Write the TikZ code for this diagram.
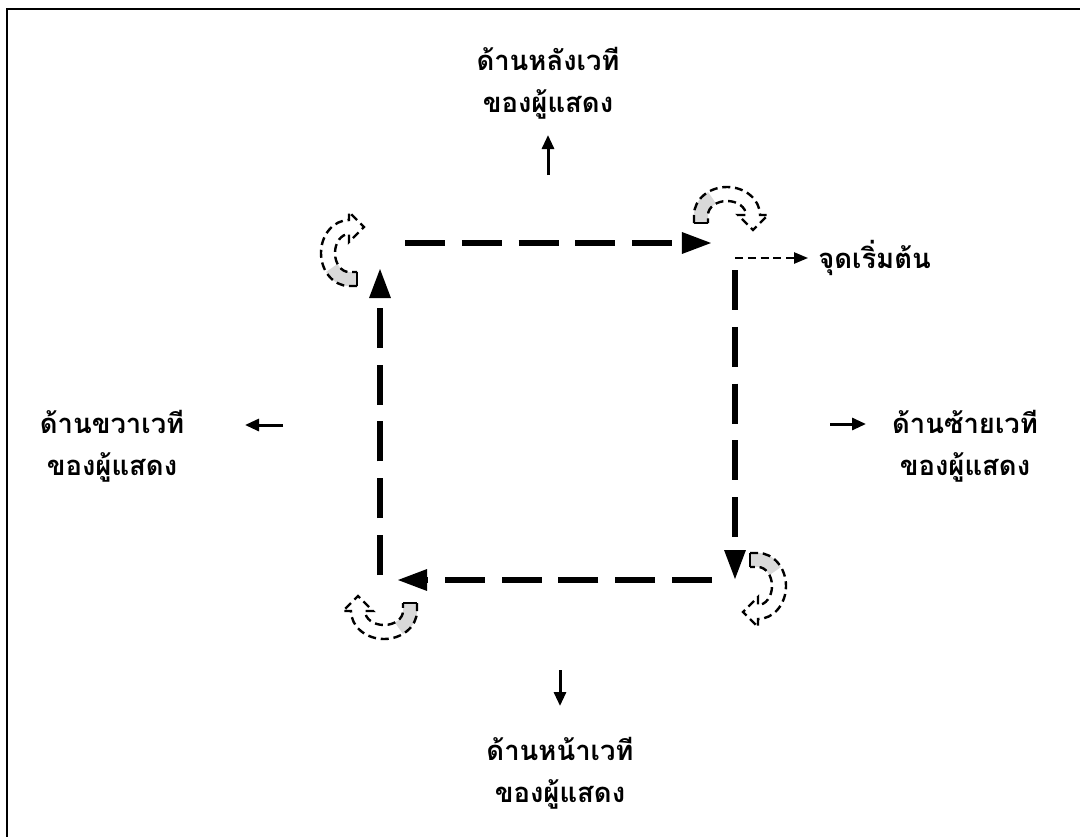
\documentclass[tikz,border=0pt]{standalone}
\usepackage{fontspec}
\newfontfamily\thaifont[Script=Thai]{Loma}
\usetikzlibrary{arrows.meta}

\begin{document}
\begin{tikzpicture}[
         x=0.025cm, y=-0.025cm,
         side/.style={font=\thaifont\bfseries\fontsize{19.5}{30}\selectfont, align=center, inner sep=0pt},
         walk/.style={line width=0.15cm, dash pattern=on 1cm off 0.42cm, -{Triangle[length=0.75cm,width=0.5cm]}},
         pointer/.style={line width=0.075cm, -{Triangle[length=0.35cm,width=0.3cm]}},
         begin/.style={line width=0.05cm, dash pattern=on 0.2cm off 0.12cm, -{Triangle[length=0.35cm,width=0.28cm]}},
         turn/.pic={
            \begin{scope}[x=0.025cm, y=0.025cm]
               \fill[gray!30] (-33,-8) -- (-19,-8) -- (-19,0)
                  arc[start angle=180, end angle=125, x radius=19, y radius=14]
                  -- ({33*cos(125)},{28*sin(125)})
                  arc[start angle=125, end angle=180, x radius=33, y radius=28] -- cycle;
               \draw[line width=0.06cm, dash pattern=on 0.2cm off 0.12cm]
                  (-33,-8) -- (-33,0)
                  arc[start angle=180, end angle=0, x radius=33, y radius=28]
                  -- (41,0) -- (26,-15) -- (11,0) -- (19,0)
                  arc[start angle=0, end angle=180, x radius=19, y radius=14]
                  -- (-19,-8);
               \draw[line width=0.07cm] (-33,-8) -- (-19,-8);
            \end{scope}
         }
      ]
         \useasboundingbox (0,0) rectangle (1080,837);
         % Frame
         \draw[line width=0.07cm] (1080,9) -- (7,9) -- (7,837);

         % Corners of the walk
         \coordinate (tl) at (380,243);
         \coordinate (tr) at (735,243);
         \coordinate (br) at (735,580);
         \coordinate (bl) at (380,580);

         % Walk around the stage
         \draw[walk, shorten <=0.625cm, shorten >=0.575cm] (tl) -- (tr);
         \draw[walk, shorten <=0.675cm] (tr) -- (br);
         \draw[walk, shorten <=0.575cm, shorten >=0.425cm] (br) -- (bl);
         \draw[walk, shorten <=0.125cm, shorten >=0.625cm] (bl) -- (tl);

         % Turns at the corners
         \pic at (727,215) {turn};
         \pic[rotate=90] at (349,253) {turn};
         \pic[rotate=-90] at (758,586) {turn};
         \pic[rotate=180] at (384,611) {turn};

         % Sides of the stage
         \node[side] (back) at (548,83) {ด้านหลังเวที\\ของผู้แสดง};
         \node[side] (right) at (112,446) {ด้านขวาเวที\\ของผู้แสดง};
         \node[side] (left) at (965,446) {ด้านซ้ายเวที\\ของผู้แสดง};
         \node[side] (front) at (560,773) {ด้านหน้าเวที\\ของผู้แสดง};
         \node[side, anchor=west] (start) at (818,258) {จุดเริ่มต้น};

         % Pointers to the sides
         \coordinate (backfoot) at (548,175);
         \coordinate (backtip) at (548,135);
         \coordinate (rightfoot) at (283,425);
         \coordinate (righttip) at (245,425);
         \coordinate (leftfoot) at (830,424);
         \coordinate (lefttip) at (866,424);
         \coordinate (frontfoot) at (560,670);
         \coordinate (fronttip) at (560,706);
         \coordinate (startfoot) at (735,258);
         \draw[pointer] (backfoot) -- (backtip);
         \draw[pointer] (rightfoot) -- (righttip);
         \draw[pointer] (leftfoot) -- (lefttip);
         \draw[pointer] (frontfoot) -- (fronttip);
         \draw[begin, shorten >=0.25cm] (startfoot) -- (start);

      \end{tikzpicture}
\end{document}
